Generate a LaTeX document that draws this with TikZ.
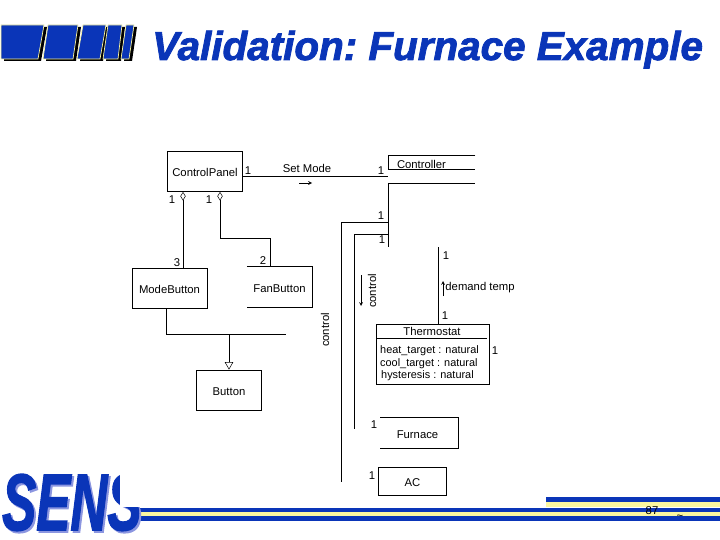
\documentclass[tikz,border=0pt]{standalone}
\usepackage{fontspec}
\usepackage{tikz}
\usetikzlibrary{shapes.geometric}
\setmainfont{Liberation Sans}
\newfontfamily\logofont[FakeBold=2]{Liberation Sans Bold Italic}
\definecolor{slideblue}{HTML}{0A35B8}
\definecolor{slideyellow}{HTML}{FBF7A0}
\definecolor{slideshade}{HTML}{8C96E0}

\tikzset{
    classbox/.style={draw, line width=0.8pt, align=center, text height=10pt, text depth=0pt, font=\fontsize{11.3}{13}\selectfont},
    openbox/.style={align=center, text height=10pt, text depth=0pt, font=\fontsize{11.3}{13}\selectfont},
    lbl/.style={font=\fontsize{11.3}{13}\selectfont, inner sep=0pt},
    attr/.style={anchor=west, font=\fontsize{10.9}{13}\selectfont, inner sep=0pt},
    conn/.style={line width=0.8pt},
    aggr/.style={draw, diamond, aspect=0.7, inner sep=0pt, minimum width=5pt, minimum height=8pt, line width=0.5pt},
    inherit/.style={draw, regular polygon, regular polygon sides=3, shape border rotate=180, inner sep=0pt, minimum size=9pt, line width=0.5pt},
    flow/.style={->, >=stealth, line width=0.7pt},
    logobar/.style={fill=slideblue, draw=slideyellow, line width=0.7pt}
}

\begin{document}
\begin{tikzpicture}[x=1pt, y=-1pt]
    \useasboundingbox (0, 0) rectangle (720, 540);

    % Logo bars at top left (black shadow first)
    \foreach \ta/\tb/\ba/\bb in {1/44/1/38, 48/78/43/73, 83/106/77/100, 108/122/103/118, 126/134/121/129} {
        \fill[black] (\ta+3, 27) -- (\tb+3, 27) -- (\bb+3, 61) -- (\ba+3, 61) -- cycle;
        \draw[logobar] (\ta, 25) -- (\tb, 25) -- (\bb, 59) -- (\ba, 59) -- cycle;
    }

    % Title
    \node[anchor=base west, inner sep=0pt, text=slideblue] (title) at (152, 60)
        {\fontsize{40.4}{44}\selectfont\logofont\frenchspacing Validation: Furnace Example};

    % Bottom bars
    \fill[slideblue] (546, 497) rectangle (720, 502);
    \fill[slideyellow] (546, 502) rectangle (720, 507);
    \fill[slideblue] (140, 508) rectangle (720, 512);
    \fill[slideyellow] (140, 512) rectangle (720, 516);
    \fill[slideblue] (140, 516) rectangle (720, 521);

    % SENS logo, top of the last letter is hidden
    \node[anchor=base west, inner sep=0pt, text=slideblue, xscale=0.64] (sens) at (2, 530)
        {\fontsize{80}{80}\selectfont\logofont
         \rlap{\kern3pt\raisebox{-2pt}{\textcolor{slideshade}{SENS}}}SENS};
    \fill[white] (120, 465) rectangle (150, 507);

    % Page number
    \node[lbl] (pagenum) at (652, 511) {87};
    \node[lbl] (pagemark) at (680, 517) {\textasciitilde};

    % Classes
    \node[classbox, minimum width=75.5pt, minimum height=40.5pt] (panel) at (205, 171.5) {ControlPanel};
    \node[classbox, minimum width=75pt, minimum height=40pt] (mode) at (169.5, 288) {ModeButton};
    \node[openbox, minimum width=65pt, minimum height=40pt] (fan) at (279.5, 287) {FanButton};
    \node[classbox, minimum width=65.5pt, minimum height=40pt] (button) at (229, 390) {Button};
    \node[minimum width=87pt, minimum height=14pt, anchor=north west] (controller) at (388, 155) {};
    \node[lbl] (controllername) at (421.5, 164) {Controller};
    \node[draw, line width=0.8pt, minimum width=113pt, minimum height=60pt, anchor=north west] (thermo) at (376, 324) {};
    \node[lbl] (thermoname) at (432, 331) {Thermostat};
    \node[attr] (heat) at (380, 351) {heat\_target : natural};
    \node[attr] (cool) at (380, 364) {cool\_target : natural};
    \node[attr] (hyst) at (381, 376) {hysteresis : natural};
    \node[minimum width=78pt, minimum height=31pt, anchor=north west] (furnace) at (380, 417) {};
    \node[lbl] (furnacename) at (417.5, 434.5) {Furnace};
    \node[classbox, minimum width=68pt, minimum height=28pt, anchor=north west] (ac) at (378, 467) {AC};

    % Open outlines
    \draw[conn] (fan.north west) -- (fan.north east) -- (fan.south east) -- (fan.south west);
    \draw[conn] (furnace.north west) -- (furnace.north east) -- (furnace.south east) -- (furnace.south west);
    \draw[conn] (controller.north east) -- (controller.north west) -- (controller.south west) -- (controller.south east);
    \coordinate (ctrlleft) at (388, 183);
    \coordinate (ctrlright) at (475, 183);
    \draw[conn] (ctrlleft) -- (ctrlright);
    \coordinate (thermosep) at (487, 338);
    \draw[conn] (thermo.west |- thermosep) -- (thermosep);

    % Aggregation
    \node[aggr, anchor=north] (dmode) at (183, 192) {};
    \node[aggr, anchor=north] (dfan) at (220, 192) {};
    \coordinate (modetop) at (183, 268);
    \coordinate (fantop) at (270, 267);
    \coordinate (fanbend) at (270, 238);
    \draw[conn] (dmode.south) -- (modetop);
    \draw[conn] (dfan.south) |- (fanbend) -- (fantop);

    % Inheritance
    \node[inherit, anchor=corner 1] (tri) at (button.north) {};
    \coordinate (modeout) at (166, 308);
    \coordinate (busleft) at (166, 334);
    \coordinate (busright) at (286, 334);
    \coordinate (busjoin) at (229, 334);
    \draw[conn] (modeout) -- (busleft) -- (busright);
    \draw[conn] (busjoin) -- (tri.north);

    % Links to the controller
    \coordinate (panelout) at (243, 176);
    \coordinate (ctrlin) at (388, 176);
    \coordinate (ctrlend) at (388, 247);
    \coordinate (acin) at (388, 222);
    \coordinate (acline) at (341, 482);
    \coordinate (furnin) at (388, 234);
    \coordinate (furnline) at (354.5, 429);
    \draw[conn] (panelout) -- (ctrlin);
    \draw[conn] (ctrlleft) -- (ctrlend);
    \draw[conn] (acin) -| (acline);
    \draw[conn] (furnin) -| (furnline);

    % Thermostat demand
    \coordinate (demandtop) at (438.5, 247);
    \draw[conn] (demandtop) -- (thermo.north -| demandtop);

    % Labels
    \node[lbl] (setmode) at (307, 168) {Set Mode};
    \coordinate (setmodea) at (299, 183);
    \coordinate (setmodeb) at (312, 183);
    \draw[flow] (setmodea) -- (setmodeb);
    \node[lbl] (demand) at (480, 288) {demand temp};
    \coordinate (demanda) at (443, 296);
    \coordinate (demandb) at (443, 281);
    \draw[flow] (demanda) -- (demandb);
    \node[lbl, rotate=90] (control) at (372, 291) {control};
    \coordinate (controla) at (361, 275);
    \coordinate (controlb) at (361, 306);
    \draw[flow] (controla) -- (controlb);
    \node[lbl, rotate=90] (controltwo) at (325, 330) {control};

    % Multiplicities
    \foreach \nm/\px/\py/\txt in {ma/248/171/1, mb/172/200/1, mc/209/200/1, md/177/263/3, me/263/261/2,
        mf/381/171/1, mg/381/216/1, mh/382/240/1, mi/446/256/1, mj/445/316/1, mk/495/351/1, ml/374/425/1, mm/372/476/1} {
        \node[lbl] (\nm) at (\px, \py) {\txt};
    }
\end{tikzpicture}
\end{document}
